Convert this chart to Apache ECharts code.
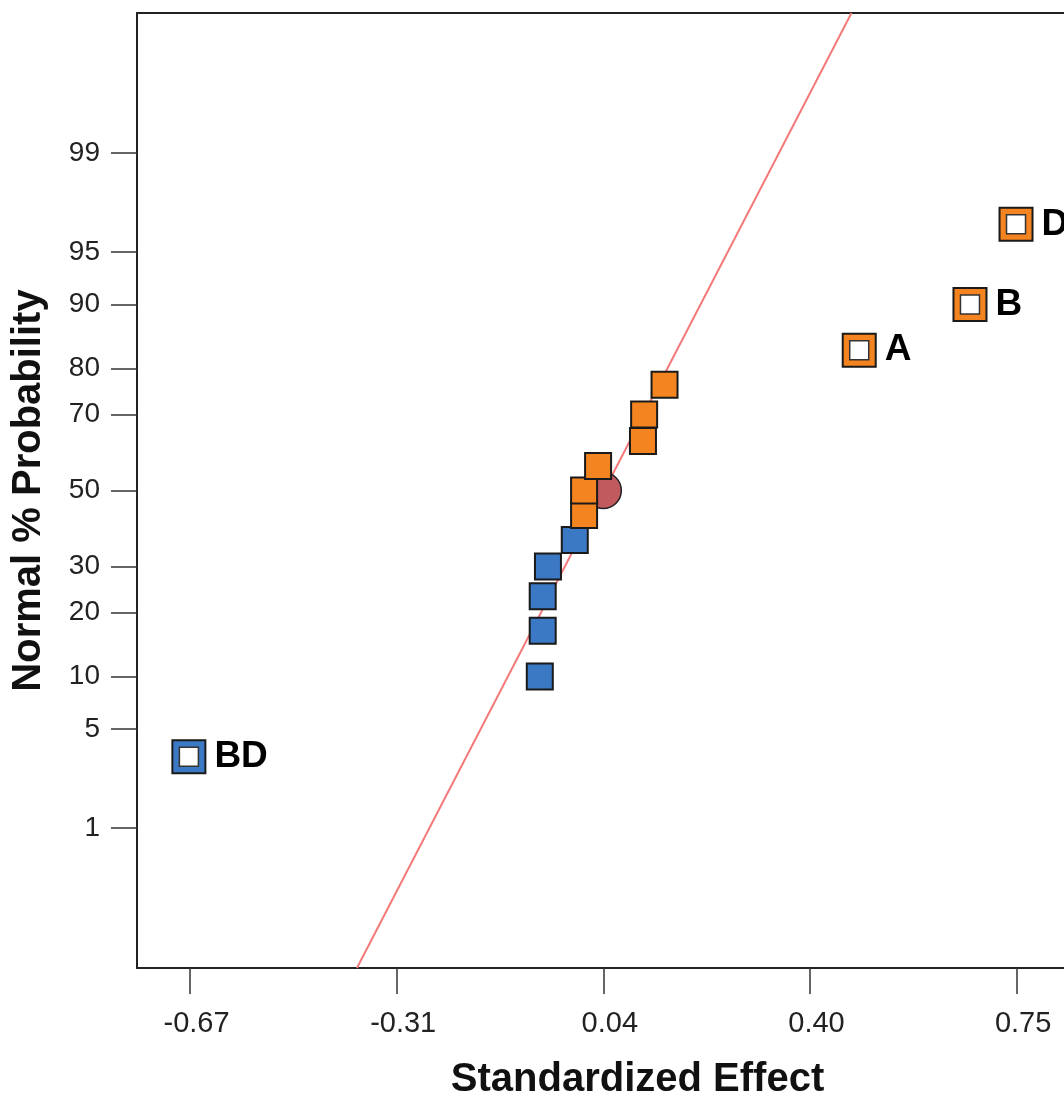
<!DOCTYPE html>
<html>
<head>
<meta charset="utf-8">
<script src="https://cdn.jsdelivr.net/npm/echarts@6/dist/echarts.min.js"></script>
<style>
html,body{margin:0;padding:0;background:#fff;}
#chart{width:1064px;height:1096px;}
</style>
</head>
<body>
<div id="chart"></div>
<script>
// ---- data ----
const effectValues = [-0.670, -0.068, -0.063, -0.063, -0.054, -0.008, 0.008, 0.008, 0.032, 0.109, 0.111, 0.146, 0.480, 0.670, 0.749];
const effectProbs  = [3.33, 10, 16.67, 23.33, 30, 36.67, 43.33, 50, 56.67, 63.33, 70, 76.67, 83.33, 90, 96.67];
const effectLabels = ['BD', '', '', '', '', '', '', '', '', '', '', '', 'A', 'B', 'D'];
const centerPointX = [0.041];
const centerPointProb = [50];
const fitLineX = [-0.3817, 0.4667];
const fitLineProb = [0.05, 99.95];
const xTickValues = [-0.668, -0.3135, 0.041, 0.3955, 0.750];
const xTickLabels = ['-0.67', '-0.31', '0.04', '0.40', '0.75'];
const yTickProbs = [1, 5, 10, 20, 30, 50, 70, 80, 90, 95, 99];
const yRangeProb = [0.05, 99.95];
const xRange = [-0.759, 0.8313];

// inverse standard normal (probability scale)
function probit(p) {
  const a = [-3.969683028665376e+01, 2.209460984245205e+02, -2.759285104469687e+02, 1.383577518672690e+02, -3.066479806614716e+01, 2.506628277459239e+00];
  const b = [-5.447609879822406e+01, 1.615858368580409e+02, -1.556989798598866e+02, 6.680131188771972e+01, -1.328068155288572e+01];
  const c = [-7.784894002430293e-03, -3.223964580411365e-01, -2.400758277161838e+00, -2.549732539343734e+00, 4.374664141464968e+00, 2.938163982698783e+00];
  const d = [7.784695709041462e-03, 3.224671290700398e-01, 2.445134137142996e+00, 3.754408661907416e+00];
  const pl = 0.02425, ph = 1 - pl;
  let q, r;
  if (p < pl) {
    q = Math.sqrt(-2 * Math.log(p));
    return (((((c[0]*q+c[1])*q+c[2])*q+c[3])*q+c[4])*q+c[5]) / ((((d[0]*q+d[1])*q+d[2])*q+d[3])*q+1);
  } else if (p <= ph) {
    q = p - 0.5; r = q * q;
    return (((((a[0]*r+a[1])*r+a[2])*r+a[3])*r+a[4])*r+a[5])*q / (((((b[0]*r+b[1])*r+b[2])*r+b[3])*r+b[4])*r+1);
  } else {
    q = Math.sqrt(-2 * Math.log(1 - p));
    return -(((((c[0]*q+c[1])*q+c[2])*q+c[3])*q+c[4])*q+c[5]) / ((((d[0]*q+d[1])*q+d[2])*q+d[3])*q+1);
  }
}
const z = pct => probit(pct / 100);

const ORANGE = '#F3841F', BLUE = '#3C79C4', EDGE = '#222222';
const FONT = 'Liberation Sans, Arial, Helvetica, sans-serif';

const plainPts = [], hollowPts = [];
effectValues.forEach((v, i) => {
  const color = v < 0 ? BLUE : ORANGE;
  const item = { value: [v, z(effectProbs[i])], name: effectLabels[i], itemStyle: { color } };
  if (effectLabels[i]) hollowPts.push(item); else plainPts.push(item);
});

const yTicks = yTickProbs.map(z);
function nearestLabel(val, vals, labels) {
  let best = 0;
  vals.forEach((t, i) => { if (Math.abs(t - val) < Math.abs(vals[best] - val)) best = i; });
  return labels[best];
}

const chart = echarts.init(document.getElementById('chart'), null, { renderer: 'canvas' });
chart.setOption({
  backgroundColor: '#ffffff',
  animation: false,
  grid: { left: 137, right: 0, top: 13, bottom: 128, show: false, containLabel: false, outerBoundsMode: 'none' },
  xAxis: [{
    type: 'value', min: xRange[0], max: xRange[1],
    name: 'Standardized Effect', nameLocation: 'middle', nameGap: 92,
    nameTextStyle: { fontFamily: FONT, fontSize: 40, fontWeight: 'bold', color: '#111', padding: [0, 0, 0, 74] },
    axisLine: { show: true, onZero: false, lineStyle: { color: EDGE, width: 2 } },
    axisTick: { show: true, inside: false, length: 26, customValues: xTickValues, lineStyle: { color: '#333', width: 1.5 } },
    axisLabel: { customValues: xTickValues, margin: 41, fontFamily: FONT, fontSize: 29, color: '#222', padding: [0, 0, 0, 13],
      formatter: v => nearestLabel(v, xTickValues, xTickLabels) },
    splitLine: { show: false }
  }, {
    type: 'value', position: 'top', min: xRange[0], max: xRange[1],
    axisLine: { show: true, onZero: false, lineStyle: { color: EDGE, width: 2 } },
    axisTick: { show: false }, axisLabel: { show: false }, splitLine: { show: false }
  }],
  yAxis: {
    type: 'value', min: z(yRangeProb[0]), max: z(yRangeProb[1]),
    name: 'Normal % Probability', nameLocation: 'middle', nameGap: 88, nameRotate: 90,
    nameTextStyle: { fontFamily: FONT, fontSize: 40, fontWeight: 'bold', color: '#111' },
    axisLine: { show: true, onZero: false, lineStyle: { color: EDGE, width: 2 } },
    axisTick: { show: true, inside: false, length: 26, customValues: yTicks, lineStyle: { color: '#333', width: 1.5 } },
    axisLabel: { customValues: yTicks, margin: 37, fontFamily: FONT, fontSize: 28, color: '#222',
      formatter: v => String(nearestLabel(v, yTicks, yTickProbs)) },
    splitLine: { show: false }
  },
  series: [
    {
      type: 'line', silent: true, symbol: 'none', clip: true,
      data: fitLineX.map((x, i) => [x, z(fitLineProb[i])]),
      lineStyle: { color: '#F47A7A', width: 2 }, z: 1
    },
    {
      type: 'scatter', silent: true, symbol: 'circle', symbolSize: 36,
      data: centerPointX.map((x, i) => [x, z(centerPointProb[i])]),
      itemStyle: { color: '#C05A5E', borderColor: EDGE, borderWidth: 1.5, opacity: 1 }, z: 2
    },
    {
      type: 'scatter', silent: true, symbol: 'rect', symbolSize: 26,
      data: plainPts,
      itemStyle: { borderColor: '#1a1a1a', borderWidth: 2, opacity: 1 }, z: 3
    },
    {
      type: 'scatter', silent: true, symbol: 'rect', symbolSize: 33,
      data: hollowPts,
      itemStyle: { borderColor: '#1a1a1a', borderWidth: 2, opacity: 1 },
      label: { show: true, position: 'right', distance: 8, formatter: p => p.name,
        fontFamily: FONT, fontSize: 37, fontWeight: 'bold', color: '#000' },
      z: 4
    },
    {
      type: 'scatter', silent: true, symbol: 'rect', symbolSize: 19,
      data: hollowPts.map(p => p.value),
      itemStyle: { color: '#ffffff', borderColor: '#333', borderWidth: 1.5, opacity: 1 }, z: 5
    }
  ]
});
</script>
</body>
</html>
